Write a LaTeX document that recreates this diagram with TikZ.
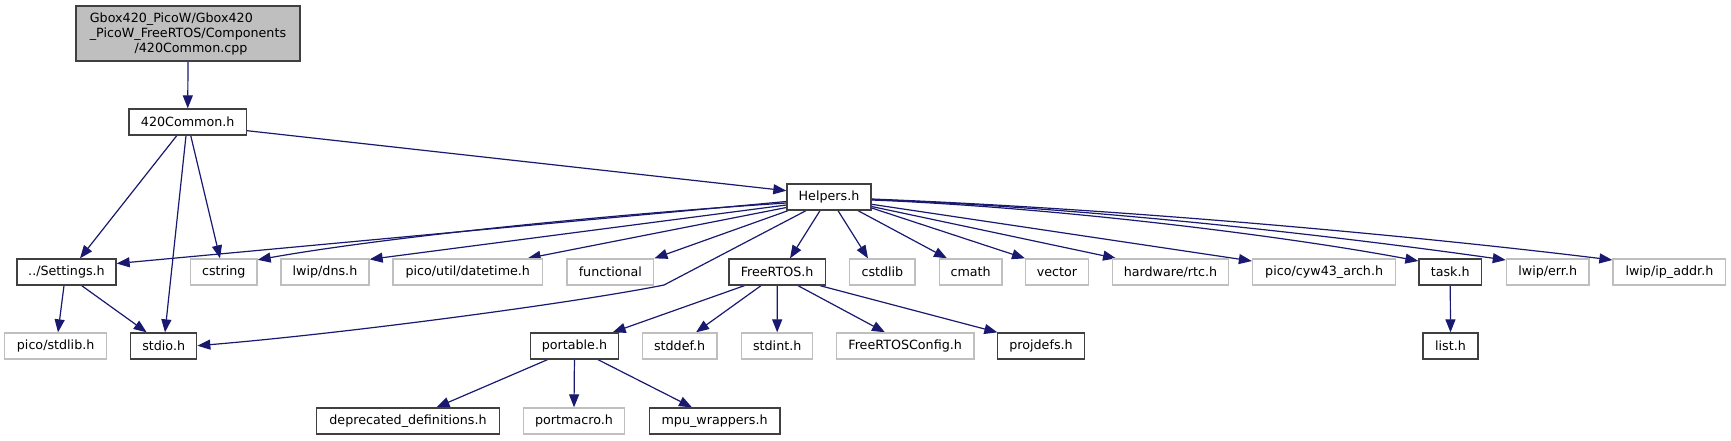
\documentclass[tikz,border=0pt]{standalone}
\usepackage{fontspec}
\setmainfont{DejaVu Sans}
\usetikzlibrary{arrows.meta,calc}
\definecolor{edgeblue}{HTML}{191970}
\definecolor{docgray}{HTML}{404040}
\definecolor{undocgray}{HTML}{BFBFBF}
\definecolor{rootfill}{HTML}{BFBFBF}
\pgfdeclarelayer{bglayer}
\pgfdeclarelayer{edgelayer}
\pgfsetlayers{bglayer,edgelayer,main}
\begin{document}
\begin{tikzpicture}[x=1pt,y=-1pt,
  every node/.style={font=\fontsize{12.7}{15}\selectfont, inner sep=0pt, minimum height=26pt, text=black},
  docbox/.style={draw=docgray, line width=1.3pt, fill=white},
  extbox/.style={draw=undocgray, line width=1.3pt, fill=white},
  rootbox/.style={draw=docgray, line width=1.3pt, fill=rootfill, align=left},
  dep/.style={draw=edgeblue, line width=1.2pt, -{Triangle[length=13pt,width=10pt]}},
]
\begin{pgfonlayer}{bglayer}
\fill[white] (0,0) rectangle (1731,440);
\end{pgfonlayer}
\useasboundingbox (0,0) rectangle (1731,440);

% row 1-2
\node[rootbox, minimum width=224pt, minimum height=55pt] (root) at (188,33.5)
  {Gbox420\_PicoW/Gbox420\\\_PicoW\_FreeRTOS/Components\\\hspace*{44.7pt}/420Common.cpp};
\node[docbox, minimum width=117.5pt] (c420) at (187.75,122) {420Common.h};
\node[docbox, minimum width=84pt] (helpers) at (829,197) {Helpers.h};

% row 3
\node[docbox, minimum width=99pt] (settings) at (66.5,272) {../Settings.h};
\node[extbox, minimum width=66.5pt] (cstring) at (223.75,272) {cstring};
\node[extbox, minimum width=88pt] (dns) at (325,272) {lwip/dns.h};
\node[extbox, minimum width=149.6pt] (datetime) at (467.8,272) {pico/util/datetime.h};
\node[extbox, minimum width=86.9pt] (functional) at (610.35,272) {functional};
\node[docbox, minimum width=96.1pt] (freertos) at (777.15,272) {FreeRTOS.h};
\node[extbox, minimum width=65.4pt] (cstdlib) at (882.4,272) {cstdlib};
\node[extbox, minimum width=62.8pt] (cmath) at (970.6,272) {cmath};
\node[extbox, minimum width=62.7pt] (vector) at (1057,272) {vector};
\node[extbox, minimum width=115.9pt] (rtc) at (1170.45,272) {hardware/rtc.h};
\node[extbox, minimum width=143.3pt] (cyw43) at (1324.15,272) {pico/cyw43\_arch.h};
\node[docbox, minimum width=62.5pt] (task) at (1450.25,272) {task.h};
\node[extbox, minimum width=82.6pt] (err) at (1547.7,272) {lwip/err.h};
\node[extbox, minimum width=112.8pt] (ipaddr) at (1669.4,272) {lwip/ip\_addr.h};

% row 4
\node[extbox, minimum width=101.7pt] (stdlib) at (55.65,346) {pico/stdlib.h};
\node[docbox, minimum width=66pt] (stdio) at (163.7,346) {stdio.h};
\node[docbox, minimum width=88.1pt] (portable) at (574.45,346) {portable.h};
\node[extbox, minimum width=74.6pt] (stddef) at (679.6,346) {stddef.h};
\node[extbox, minimum width=70.8pt] (stdint) at (777.2,346) {stdint.h};
\node[extbox, minimum width=137.7pt] (config) at (905.15,346) {FreeRTOSConfig.h};
\node[docbox, minimum width=87.2pt] (projdefs) at (1041,346) {projdefs.h};
\node[docbox, minimum width=55pt] (list) at (1450.5,346) {list.h};

% row 5
\node[docbox, minimum width=182.8pt] (deprecated) at (408,421) {deprecated\_definitions.h};
\node[extbox, minimum width=100.5pt] (portmacro) at (574,421) {portmacro.h};
\node[docbox, minimum width=130.8pt] (mpu) at (714.6,421) {mpu\_wrappers.h};

% edges
\begin{pgfonlayer}{edgelayer}
\draw[dep] (root.south) -- (c420.north);
\draw[dep] ($(c420.east)+(0,8.7)$) -- ($(helpers.west)+(0,-6.3)$);
\draw[dep] ($(c420.south)+(-11,0)$) -- ($(settings.north)+(13.5,0)$);
\draw[dep] ($(c420.south)+(-1.75,0)$) -- ($(stdio.north)+(1.3,0)$);
\draw[dep] ($(c420.south)+(3,0)$) -- ($(cstring.north)+(-3.75,0)$);

\draw[dep] ($(helpers.west)+(0,4.5)$) -- ($(settings.east)+(0,-8.5)$);
\draw[dep] ($(helpers.west)+(0,6)$) .. controls (600,215) and (380,238) .. ($(cstring.north east)+(0,1.5)$);
\draw[dep] ($(helpers.west)+(0,8)$) -- ($(dns.north east)+(0,1)$);
\draw[dep] ($(helpers.west)+(0,10.5)$) -- ($(datetime.north east)+(-15.6,0)$);
\draw[dep] ($(helpers.south west)+(1.7,0)$) -- (functional.north east);
\draw[dep] ($(helpers.south)+(-23,0)$) -- (664,285) .. controls (580,302) and (350,333) .. ($(stdio.east)+(0,-0.3)$);
\draw[dep] ($(helpers.south)+(-9,0)$) -- ($(freertos.north)+(12.85,0)$);
\draw[dep] ($(helpers.south)+(9,0)$) -- ($(cstdlib.north)+(-14.4,0)$);
\draw[dep] ($(helpers.south)+(29,0)$) -- ($(cmath.north)+(-23.6,0)$);
\draw[dep] ($(helpers.east)+(0,11)$) -- (vector.north west);
\draw[dep] ($(helpers.east)+(0,9.5)$) -- ($(rtc.north west)+(4.2,0)$);
\draw[dep] ($(helpers.east)+(0,7.3)$) -- ($(cyw43.west)+(0,-11)$);
\draw[dep] ($(helpers.east)+(0,3)$) .. controls (1050,207) and (1280,235) .. ($(task.west)+(0,-11)$);
\draw[dep] ($(helpers.east)+(0,2.5)$) .. controls (1100,208) and (1350,238) .. ($(err.west)+(0,-12)$);
\draw[dep] ($(helpers.east)+(0,2)$) .. controls (1150,210) and (1450,240) .. ($(ipaddr.west)+(0,-12)$);

\draw[dep] ($(settings.south)+(-2.5,0)$) -- ($(stdlib.north)+(2.35,0)$);
\draw[dep] ($(settings.south)+(15.2,0)$) -- ($(stdio.north)+(-17,0)$);

\draw[dep] ($(freertos.south)+(-32.75,0)$) -- ($(portable.north east)+(-6.5,0)$);
\draw[dep] ($(freertos.south)+(-16.15,0)$) -- ($(stddef.north)+(16.4,0)$);
\draw[dep] (freertos.south) -- (stdint.north);
\draw[dep] ($(freertos.south)+(20.85,0)$) -- ($(config.north)+(-20.15,0)$);
\draw[dep] ($(freertos.south)+(42.85,0)$) -- ($(projdefs.north west)+(0.6,0)$);

\draw[dep] ($(portable.south)+(-26.95,0)$) -- ($(deprecated.north)+(28.5,0)$);
\draw[dep] (portable.south) -- (portmacro.north);
\draw[dep] ($(portable.south)+(23.55,0)$) -- ($(mpu.north)+(-22.6,0)$);

\draw[dep] (task.south) -- (list.north);
\end{pgfonlayer}
\end{tikzpicture}
\end{document}
